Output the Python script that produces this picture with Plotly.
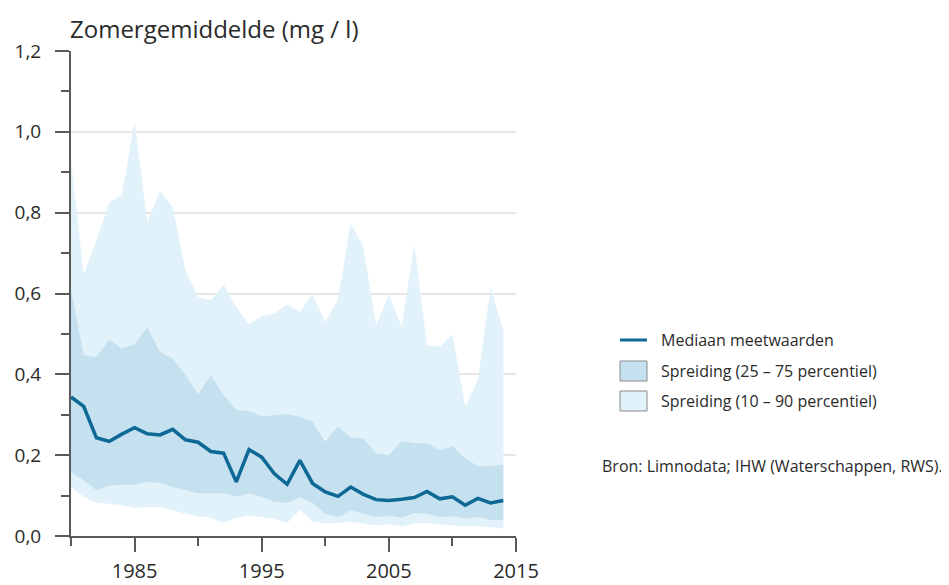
import plotly.graph_objects as go

years = list(range(1980, 2015))
median = [0.344, 0.321, 0.243, 0.234, 0.252, 0.268, 0.253, 0.250, 0.264, 0.238,
          0.232, 0.209, 0.205, 0.134, 0.214, 0.195, 0.154, 0.128, 0.187, 0.130,
          0.109, 0.098, 0.121, 0.103, 0.090, 0.088, 0.091, 0.095, 0.110, 0.092,
          0.097, 0.076, 0.093, 0.082, 0.088]
p75 = [0.610, 0.447, 0.443, 0.486, 0.464, 0.474, 0.517, 0.455, 0.439, 0.398,
       0.351, 0.398, 0.348, 0.311, 0.309, 0.296, 0.299, 0.301, 0.295, 0.282,
       0.233, 0.271, 0.243, 0.241, 0.204, 0.200, 0.235, 0.230, 0.229, 0.212,
       0.222, 0.192, 0.173, 0.173, 0.177]
p25 = [0.158, 0.138, 0.113, 0.125, 0.127, 0.127, 0.134, 0.131, 0.121, 0.113,
       0.106, 0.105, 0.106, 0.098, 0.105, 0.097, 0.084, 0.082, 0.096, 0.082,
       0.055, 0.047, 0.064, 0.055, 0.047, 0.051, 0.045, 0.057, 0.055, 0.047,
       0.049, 0.043, 0.047, 0.040, 0.039]
p10 = [0.121, 0.097, 0.082, 0.080, 0.076, 0.070, 0.072, 0.072, 0.064, 0.055,
       0.049, 0.045, 0.032, 0.045, 0.051, 0.047, 0.043, 0.032, 0.065, 0.035,
       0.031, 0.032, 0.035, 0.031, 0.026, 0.029, 0.024, 0.031, 0.032, 0.029,
       0.026, 0.024, 0.024, 0.022, 0.018]
p90 = [0.930, 0.649, 0.731, 0.826, 0.843, 1.027, 0.777, 0.854, 0.814, 0.657,
       0.591, 0.583, 0.623, 0.567, 0.524, 0.544, 0.550, 0.573, 0.554, 0.598,
       0.529, 0.587, 0.774, 0.715, 0.521, 0.598, 0.517, 0.722, 0.472, 0.468,
       0.499, 0.320, 0.385, 0.615, 0.509]

title_text = "Zomergemiddelde (mg / l)"
legend_labels = ["Mediaan meetwaarden", "Spreiding (25 – 75 percentiel)",
                 "Spreiding (10 – 90 percentiel)"]
source_text = "Bron: Limnodata; IHW (Waterschappen, RWS)."

LIGHT = "#e2f2fa"
DARK = "#c5e0ef"
LINE = "#0d6896"
AXIS = "#5a5a5a"
TEXT = "#2a2a2a"
FONT = "Open Sans"

# the page body has an 8px margin, so the figure is placed at (8, 8)
OFF = 8
W, H = 949 - OFF, 585 - OFF
L, R, T, B = 71 - OFF, 433, 51 - OFF, 49
pw, ph = W - L - R, H - T - B


def px(x):  # screen pixel -> paper
    return (x - OFF - L) / pw


def py(y):
    return (H - B - (y - OFF)) / ph


fig = go.Figure()
fig.add_trace(go.Scatter(x=years, y=p10, mode="lines", line=dict(width=0),
                         showlegend=False, hoverinfo="skip"))
fig.add_trace(go.Scatter(x=years, y=p90, mode="lines", line=dict(width=0),
                         fill="tonexty", fillcolor=LIGHT, showlegend=False))
fig.add_trace(go.Scatter(x=years, y=p25, mode="lines", line=dict(width=0),
                         showlegend=False, hoverinfo="skip"))
fig.add_trace(go.Scatter(x=years, y=p75, mode="lines", line=dict(width=0),
                         fill="tonexty", fillcolor=DARK, showlegend=False))
fig.add_trace(go.Scatter(x=years, y=median, mode="lines",
                         line=dict(color=LINE, width=3.5), showlegend=False))

shapes = [
    dict(type="line", xref="paper", yref="paper", x0=px(620), x1=px(647),
         y0=py(340), y1=py(340), line=dict(color=LINE, width=3)),
    dict(type="rect", xref="paper", yref="paper", x0=px(620), x1=px(647),
         y0=py(361), y1=py(381), fillcolor=DARK, line=dict(color="#8a8a8a", width=1)),
    dict(type="rect", xref="paper", yref="paper", x0=px(620), x1=px(647),
         y0=py(391), y1=py(411), fillcolor=LIGHT, line=dict(color="#8a8a8a", width=1)),
]
annotations = [
    dict(text=title_text, xref="paper", yref="paper", x=px(68), y=py(29),
         xanchor="left", yanchor="middle", showarrow=False,
         font=dict(size=24, color=TEXT, family=FONT)),
    dict(text=source_text, xref="paper", yref="paper", x=px(600), y=py(466),
         xanchor="left", yanchor="middle", showarrow=False,
         font=dict(size=16, color=TEXT, family=FONT)),
]
for lbl, yy in zip(legend_labels, [340, 371, 401]):
    annotations.append(dict(text=lbl, xref="paper", yref="paper", x=px(659), y=py(yy),
                            xanchor="left", yanchor="middle", showarrow=False,
                            font=dict(size=16, color=TEXT, family=FONT)))

fig.update_layout(
    template="none",
    width=W, height=H, autosize=False,
    margin=dict(l=L, r=R, t=T, b=B, pad=0),
    paper_bgcolor="white", plot_bgcolor="white",
    separators=",.",
    font=dict(family=FONT, color=TEXT),
    shapes=shapes, annotations=annotations,
    hovermode=False,
)
fig.update_xaxes(
    automargin=False,
    range=[1980, 2015], showgrid=False, zeroline=False,
    showline=True, linecolor=AXIS, linewidth=2,
    tickmode="linear", tick0=1985, dtick=10,
    ticks="outside", ticklen=14, tickwidth=2, tickcolor=AXIS,
    ticklabelstandoff=2,
    tickfont=dict(size=20, color=TEXT, family=FONT),
    minor=dict(tickmode="linear", tick0=1980, dtick=5, ticks="outside",
               ticklen=8, tickwidth=2, tickcolor=AXIS, showgrid=False),
)
fig.update_yaxes(
    automargin=False,
    range=[0, 1.2], showgrid=True, gridcolor="#e6e6e6", gridwidth=2,
    zeroline=False, showline=True, linecolor=AXIS, linewidth=2,
    tickmode="linear", tick0=0, dtick=0.2, tickformat=".1f",
    ticks="outside", ticklen=14, tickwidth=2, tickcolor=AXIS,
    ticklabelstandoff=10,
    tickfont=dict(size=19, color=TEXT, family=FONT),
    minor=dict(tickmode="linear", tick0=0, dtick=0.1, ticks="outside",
               ticklen=8, tickwidth=2, tickcolor=AXIS, showgrid=False),
)

fig.write_html("out.html")
